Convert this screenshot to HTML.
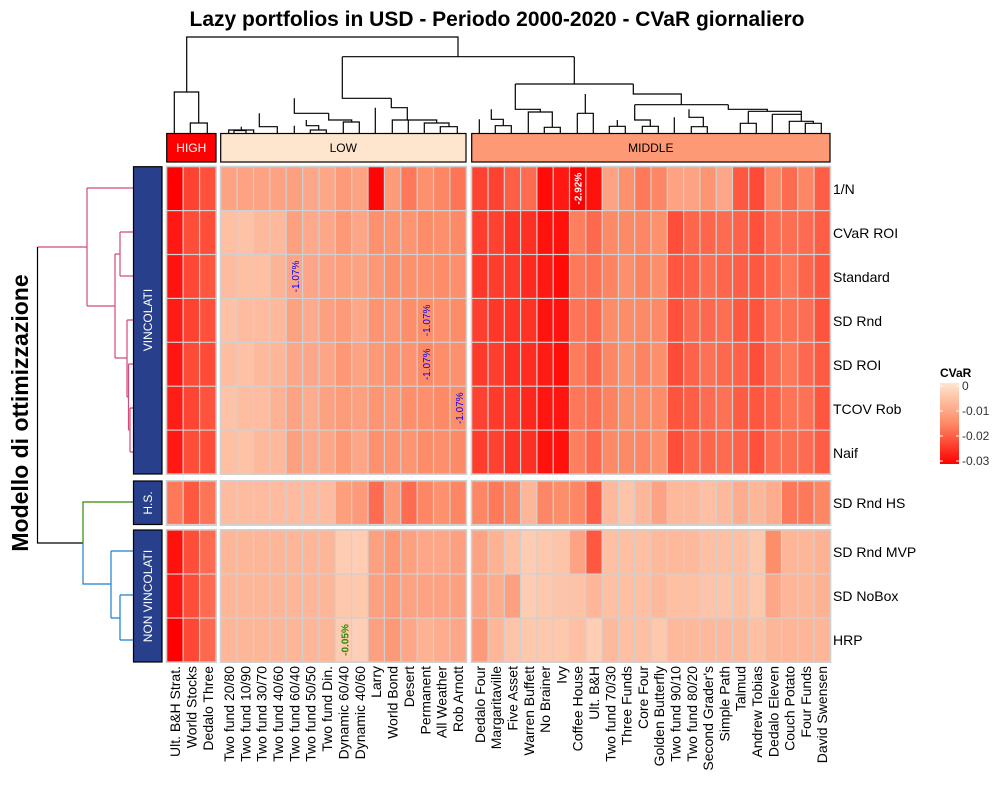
<!DOCTYPE html>
<html><head><meta charset="utf-8"><style>body{margin:0;background:#fff}svg{display:block}</style></head>
<body>
<svg id="s" width="1000" height="796" xmlns="http://www.w3.org/2000/svg" font-family="Liberation Sans, sans-serif">
<text x="497" y="26" font-size="21" font-weight="bold" text-anchor="middle">Lazy portfolios in USD - Periodo 2000-2020 - CVaR giornaliero</text>
<text transform="translate(28,413) rotate(-90)" font-size="23" font-weight="bold" text-anchor="middle">Modello di ottimizzazione</text>
<g fill="none" stroke="#000" stroke-width="1.2">
<path d="M186.7,92V37H458V56.7M174.3,133V92H198.7V123M190.3,133V123H207.3V133"/>
<path d="M342.3,56.7H574.3M342.3,56.7V98.3H391.3M294.3,98.3V113.3H328.7M259.3,113.3V126.7H277.3V133M241.3,126.7V130H253.7V133M228.7,133V130H241.3M234,133V130.5H246V133"/>
<path d="M328.7,113.3V120H351.7V122M306.3,120V125.7H318.7V130M294.3,125.7V133M310.3,133V130H326.3V133M343.3,133V122H359.3V133"/>
<path d="M391.3,98.3V107.7H407.3V120M375.3,107.7V133M392.3,133V120H436.7V123M408.3,120V133M424.3,133V123H449V126.7M440.3,133V126.7H457.3V133"/>
<path d="M515.3,84H633.3M574.3,56.7V84M515.3,84V109.3H540.3V112M491.3,109.3V119.3H503.3V125.7M479.3,119.3V133M495.3,133V125.7H511.3V133M528.3,133V112H552.3V127.3M544.3,133V127.3H560.3V133"/>
<path d="M633.3,84V94H681.3V104.7M585.3,94V113.3H593.3V133M577.3,113.3H585.3M577.3,113.3V133M634.7,104.7H728.3M634.7,104.7V120H650.3V126.3M617.3,120V126.3M609.3,133V126.3H625.3V133M642.3,133V126.3H658.3V133"/>
<path d="M728.3,104.7V109.3H767.3V111.3M689,109.3V117.3H703.3V126.7M674.3,117.3V133M691.3,133V126.7H707.3V133M748.3,111.3V123.3M740.3,133V123.3H756.3V133M748.3,111.3H801.3V114.3M772.3,114.3V133M772.3,114.3H801.3V121.3M789.3,133V121.3H813.3V123.3M805.3,133V123.3H821.3V133"/>
</g>
<g fill="none" stroke-width="1.2">
<path stroke="#d44a7a" d="M37.5,247H87M87,188V306M87,188H133M87,306H115M115,254V358M115,254H120M120,232V276M120,232H133M120,276H133M115,358H127M127,320V397M127,320H133M127,397H128.5M128.5,364V430M128.5,364H133M128.5,430H130M130,408V452M130,408H133M130,452H133"/>
<path stroke="#000" d="M37.5,247V543H83"/>
<path stroke="#2e8b00" d="M83,543V502H133"/>
<path stroke="#1a7fcf" d="M83,543V584H111M111,551V618M111,551H133M111,618H120M120,595V640M120,595H133M120,640H133"/>
</g>
<g stroke="#000" stroke-width="1.2">
<rect x="166.7" y="133.5" width="49.3" height="28.5" fill="#ff0000"/>
<rect x="220.7" y="133.5" width="245.3" height="28.5" fill="#fee5ce"/>
<rect x="471.7" y="133.5" width="358.3" height="28.5" fill="#fd9a75"/>
<rect x="133.5" y="166.7" width="28.5" height="307.3" fill="#283f8b"/>
<rect x="133.5" y="481" width="28.5" height="43.5" fill="#283f8b"/>
<rect x="133.5" y="530" width="28.5" height="132" fill="#283f8b"/>
</g>
<g font-size="12" text-anchor="middle">
<text x="191.3" y="152" fill="#fff">HIGH</text>
<text x="343.3" y="152">LOW</text>
<text x="650.8" y="152">MIDDLE</text>
<text transform="translate(152,320) rotate(-90)" fill="#fff">VINCOLATI</text>
<text transform="translate(152,503) rotate(-90)" fill="#fff">H.S.</text>
<text transform="translate(152,596) rotate(-90)" fill="#fff">NON VINCOLATI</text>
</g>
<g id="hm"></g>
<g font-size="14">
<text x="833" y="194">1/N</text><text x="833" y="238">CVaR ROI</text><text x="833" y="282">Standard</text>
<text x="833" y="326">SD Rnd</text><text x="833" y="370">SD ROI</text><text x="833" y="414">TCOV Rob</text>
<text x="833" y="458">Naif</text><text x="833" y="508">SD Rnd HS</text><text x="833" y="557">SD Rnd MVP</text>
<text x="833" y="601">SD NoBox</text><text x="833" y="645">HRP</text>
</g>
<g id="cl" font-size="14"></g>
<defs><linearGradient id="lg" x1="0" y1="0" x2="0" y2="1"><stop offset="0" stop-color="#fee5cf"/><stop offset="0.5" stop-color="#fd8a66"/><stop offset="1" stop-color="#ff0000"/></linearGradient></defs>
<text x="940" y="377" font-size="12" font-weight="bold">CVaR</text>
<rect x="940" y="383" width="19" height="81" fill="url(#lg)"/>
<g stroke="#fff" stroke-width="1"><path d="M940,386h3M956,386h3M940,411h3M956,411h3M940,436h3M956,436h3M940,461h3M956,461h3"/></g>
<g font-size="12" fill="#333"><text x="962" y="390">0</text><text x="962" y="415">-0.01</text><text x="962" y="440">-0.02</text><text x="962" y="465">-0.03</text></g>
</svg>
<script>
function col(t){t=Math.max(0,Math.min(1,t+0.06));var a,b,u;
if(t<0.5){a=[254,229,207];b=[253,138,102];u=t/0.5}else{a=[253,138,102];b=[255,0,0];u=(t-0.5)/0.5}
return "rgb("+a.map(function(v,i){return Math.round(v+(b[i]-v)*u)}).join(",")+")";}
var H={n1:[0.95,0.7,0.65],v:[0.85,0.68,0.65],hs:[0.5,0.62,0.52],mvp:[0.88,0.66,0.55],nb:[0.86,0.66,0.55],hrp:[1.0,0.68,0.56]};
var L={n1:[0.3,0.3,0.3,0.3,0.32,0.28,0.28,0.35,0.3,0.92,0.35,0.5,0.4,0.45,0.52],v:[0.15,0.15,0.17,0.2,0.3,0.27,0.3,0.35,0.3,0.38,0.38,0.4,0.42,0.42,0.42],hs:[0.17,0.17,0.17,0.17,0.17,0.17,0.17,0.33,0.35,0.55,0.35,0.55,0.45,0.4,0.45],mvp:[0.2,0.2,0.2,0.2,0.2,0.2,0.2,0.08,0.07,0.32,0.36,0.32,0.28,0.28,0.32],nb:[0.2,0.2,0.2,0.2,0.2,0.2,0.2,0.1,0.1,0.32,0.35,0.3,0.3,0.3,0.32],hrp:[0.2,0.2,0.2,0.2,0.2,0.2,0.2,0.08,0.06,0.32,0.36,0.28,0.22,0.25,0.28]};
var M={n1:[0.7,0.7,0.6,0.55,0.9,0.85,1.0,0.88,0.3,0.4,0.5,0.45,0.3,0.3,0.38,0.28,0.62,0.67,0.45,0.55,0.45,0.6],v:[0.72,0.72,0.75,0.78,0.86,0.88,0.5,0.55,0.45,0.42,0.45,0.42,0.65,0.58,0.55,0.55,0.6,0.64,0.56,0.52,0.55,0.62],hs:[0.45,0.5,0.45,0.2,0.45,0.42,0.45,0.6,0.18,0.12,0.2,0.3,0.18,0.18,0.15,0.18,0.25,0.2,0.25,0.5,0.5,0.45],mvp:[0.3,0.22,0.15,0.08,0.1,0.12,0.3,0.62,0.15,0.15,0.15,0.18,0.18,0.18,0.15,0.15,0.15,0.1,0.42,0.2,0.2,0.22],nb:[0.3,0.25,0.32,0.08,0.1,0.12,0.13,0.2,0.15,0.15,0.15,0.18,0.15,0.15,0.12,0.12,0.15,0.1,0.28,0.2,0.2,0.22],hrp:[0.35,0.2,0.12,0.1,0.1,0.1,0.15,0.07,0.18,0.15,0.15,0.1,0.18,0.18,0.18,0.18,0.18,0.15,0.2,0.2,0.2,0.2]};
var rows=[];var y0=166.7,rh=43.9;
var keys=["n1","v","v","v","v","v","v"];
for(var i=0;i<7;i++)rows.push([y0+i*rh,keys[i],i]);
rows.push([481,"hs",0]);
["mvp","nb","hrp"].forEach(function(k,i){rows.push([530+i*44,k,0])});
var groups=[[166.7,16.43,H],[220.7,16.37,L],[471.7,16.3,M]];
var g=document.getElementById("hm"),s="";
groups.forEach(function(G){var n=G[2].n1.length;
 s+='<rect x="'+(G[0]-1)+'" y="165.7" width="'+(G[1]*n+2)+'" height="'+(rh*7+2)+'" fill="#d0d0d0"/>';
 s+='<rect x="'+(G[0]-1)+'" y="480" width="'+(G[1]*n+2)+'" height="46" fill="#d0d0d0"/>';
 s+='<rect x="'+(G[0]-1)+'" y="529" width="'+(G[1]*n+2)+'" height="134" fill="#d0d0d0"/>';
 rows.forEach(function(r){var arr=G[2][r[1]];var h=(r[1]=="hs")?43.5:(r[0]>=530?44:rh);
  for(var c=0;c<n;c++){var t=arr[c]+(r[1]=="v"?((r[2]*7+c*3)%5-2)*0.01:0);
   s+='<rect x="'+(G[0]+c*G[1]+0.6)+'" y="'+(r[0]+0.6)+'" width="'+(G[1]-1.2)+'" height="'+(h-1.2)+'" fill="'+col(t)+'"/>';}
 });
});
function ann(x,y,t,c,b){s+='<text transform="translate('+x+','+y+') rotate(-90)" font-size="10" text-anchor="middle" fill="'+c+'"'+(b?' font-weight="bold"':'')+'>'+t+'</text>';}
ann(581.5,188.6,"-2.92%","#fff",1);
ann(299.2,276.5,"-1.07%","#0000ff");
ann(430.2,320.4,"-1.07%","#0000ff");
ann(430.2,364.3,"-1.07%","#0000ff");
ann(462.9,408.2,"-1.07%","#0000ff");
ann(348.5,640,"-0.05%","#2e8b00",1);
g.innerHTML=s;
var names=[["Ult. B&amp;H Strat.","World Stocks","Dedalo Three"],["Two fund 20/80","Two fund 10/90","Two fund 30/70","Two fund 40/60","Two fund 60/40","Two fund 50/50","Two fund Din.","Dynamic 60/40","Dynamic 40/60","Larry","World Bond","Desert","Permanent","All Weather","Rob Arnott"],["Dedalo Four","Margaritaville","Five Asset","Warren Buffett","No Brainer","Ivy","Coffee House","Ult. B&amp;H","Two fund 70/30","Three Funds","Core Four","Golden Butterfly","Two fund 90/10","Two fund 80/20","Second Grader's","Simple Path","Talmud","Andrew Tobias","Dedalo Eleven","Couch Potato","Four Funds","David Swensen"]];
var t="";
groups.forEach(function(G,gi){names[gi].forEach(function(nm,c){var x=G[0]+c*G[1]+G[1]/2+5;
 t+='<text transform="translate('+x.toFixed(1)+',666) rotate(-90)" text-anchor="end">'+nm+'</text>';});});
document.getElementById("cl").innerHTML=t;
</script>
</body></html>
